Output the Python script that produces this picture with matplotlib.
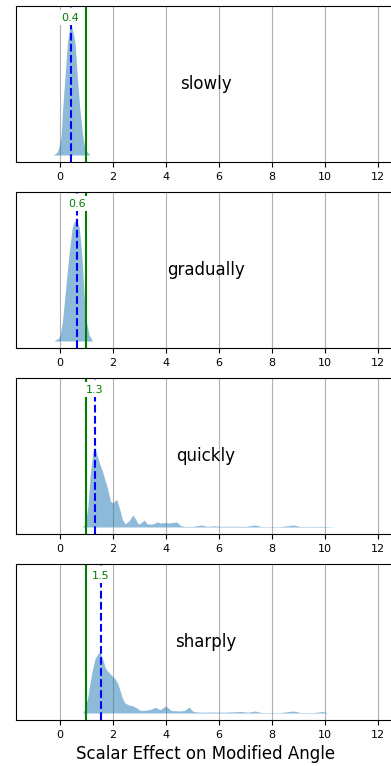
import matplotlib
matplotlib.use("Agg")
import matplotlib.pyplot as plt
import matplotlib.transforms as mtransforms

# panel names, medians and density curves
names = ["slowly", "gradually", "quickly", "sharply"]
medians = [0.40, 0.63, 1.31, 1.53]
median_labels = ["0.4", "0.6", "1.3", "1.5"]
baseline_value = 1.0

slowly_x = [-0.25, -0.1, -0.03, 0.04, 0.1, 0.19, 0.28, 0.35, 0.42, 0.5,
            0.57, 0.65, 0.75, 0.86, 0.92, 1.0, 1.13]
slowly_y = [0, 3, 9, 19, 46, 79, 112, 125, 130, 122,
            112, 79, 46, 19, 9, 4, 0]

gradually_x = [-0.23, -0.05, 0.0, 0.09, 0.19, 0.31, 0.38, 0.46, 0.53, 0.6,
               0.67, 0.73, 0.79, 0.84, 0.91, 1.0, 1.1, 1.23]
gradually_y = [0, 3, 6, 19, 46, 79, 96, 113, 119, 121,
               118, 113, 96, 79, 46, 19, 6, 0]

quickly_x = [0.85, 0.95, 1.05, 1.15, 1.25, 1.32, 1.4, 1.5, 1.6, 1.7, 1.8, 1.9,
             2.0, 2.1, 2.15, 2.25, 2.35, 2.45, 2.6, 2.75, 2.85, 2.95, 3.05,
             3.17, 3.3, 3.5, 3.67, 3.8, 3.95, 4.1, 4.25, 4.4, 4.55, 4.7, 5.0,
             5.32, 5.55, 5.8, 6.1, 6.5, 7.0, 7.36, 7.6, 8.3, 8.8, 9.1, 9.9, 10.4]
quickly_y = [0, 3, 20, 55, 76, 80, 72, 63, 56, 47, 38, 26,
             24, 27, 27, 18, 8, 3, 6, 12, 8, 3, 4,
             7, 3, 3, 5, 4, 4.5, 4, 4.5, 5, 1.5, 0.6, 0.6,
             2, 0.6, 1.2, 0.6, 0.8, 0.6, 2, 0.4, 0.4, 2, 0.4, 0.6, 0]

sharply_x = [0.86, 0.95, 1.05, 1.13, 1.22, 1.32, 1.42, 1.51, 1.6, 1.7, 1.76,
             1.9, 2.08, 2.17, 2.26, 2.35, 2.45, 2.6, 2.76, 2.9, 3.0, 3.15, 3.4,
             3.6, 3.77, 3.99, 4.2, 4.5, 4.7, 4.87, 5.0, 5.15, 5.5, 5.8, 6.2,
             6.8, 7.1, 7.36, 7.6, 8.3, 8.8, 9.1, 9.6, 9.9, 10.1]
sharply_y = [0, 5, 16, 30, 43, 54, 59, 61, 55, 46, 43,
             39, 34, 30, 23, 15, 10, 8, 7, 5, 3, 2.5, 3.5,
             5.7, 3.3, 7, 2.5, 2, 2.5, 6, 2, 1, 0.8, 1, 0.8,
             1.5, 0.8, 2, 0.5, 0.4, 2, 0.4, 0.5, 1.5, 0]

curves = [(slowly_x, slowly_y), (gradually_x, gradually_y),
          (quickly_x, quickly_y), (sharply_x, sharply_y)]

xticks = [0, 2, 4, 6, 8, 10, 12]

fig = plt.figure(figsize=(3.91, 7.66), dpi=100)

# axes run slightly past the right edge of the figure, as in the reference
left, width, height = 16 / 391, 379 / 391, 156 / 766
bottoms = [1 - 162 / 766, 1 - 348 / 766, 1 - 534 / 766, 1 - 720 / 766]

for i, name in enumerate(names):
    ax = fig.add_axes([left, bottoms[i], width, height])
    xs, ys = curves[i]
    ax.fill_between(xs, 0, ys, color="tab:blue", alpha=0.5, linewidth=0)
    ax.axvline(baseline_value, color="green", lw=1.5)
    ax.axvline(medians[i], color="blue", ls="--", lw=1.5)
    trans = mtransforms.blended_transform_factory(ax.transData, ax.transAxes)
    ax.text(medians[i], 0.926, median_labels[i], transform=trans, color="green",
            fontsize=8, ha="center", va="center", zorder=5,
            bbox=dict(facecolor="white", edgecolor="none", pad=1.5))
    ax.text(0.5, 0.5, name, transform=ax.transAxes, fontsize=12,
            ha="center", va="center")
    ax.set_xlim(-1.66, 12.64)
    ax.set_ylim(-7, 149)
    ax.set_xticks(xticks)
    ax.tick_params(axis="x", labelsize=8)
    ax.set_yticks([])
    ax.grid(axis="x", color="#b0b0b0", lw=0.8)
    ax.set_axisbelow(True)
    if i == len(names) - 1:
        ax.set_xlabel("Scalar Effect on Modified Angle", fontsize=12)

fig.savefig("out.png", dpi=100)
